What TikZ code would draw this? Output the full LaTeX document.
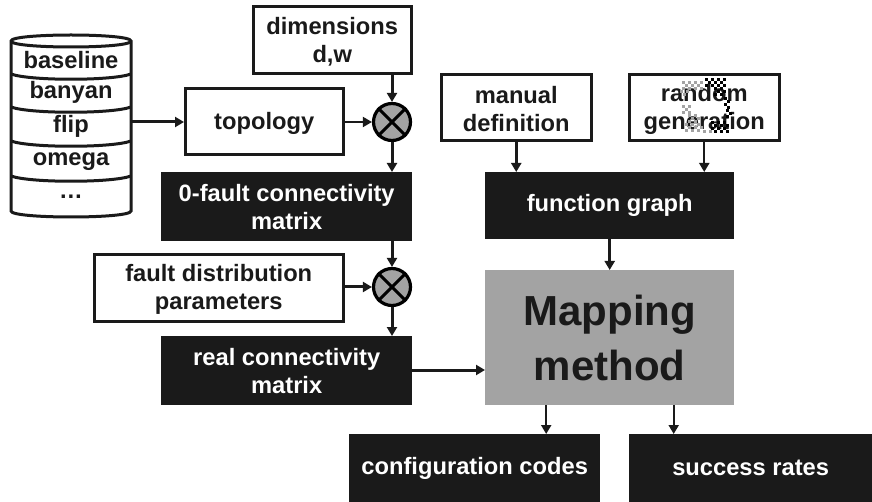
\documentclass[tikz,border=0pt]{standalone}
\usepackage{fontspec}
\setmainfont{Liberation Sans}
\usetikzlibrary{arrows.meta}
\definecolor{ink}{HTML}{1A1A1A}
\definecolor{midgray}{HTML}{A3A3A3}
\tikzset{
  whitebox/.style={draw=ink,line width=3pt,fill=white,inner sep=0pt},
  whitetext/.style={inner sep=0pt,align=center,text=ink,font=\fontsize{23.7}{28}\selectfont\bfseries},
  blackbox/.style={fill=ink,inner sep=0pt,align=center,text=white,font=\fontsize{23.7}{28}\selectfont\bfseries},
  mixer/.style={circle,draw=black,line width=3.2pt,fill=midgray,inner sep=0pt,minimum size=37pt},
  flow/.style={draw=ink,line width=3pt,-{Triangle[length=9pt,width=10pt]}},
  thinflow/.style={flow,line width=2pt},
  cylline/.style={draw=ink,line width=3pt},
  cyllabel/.style={inner sep=0pt,text=ink,font=\fontsize{23.7}{28}\selectfont\bfseries}
}
\newcommand{\whitenode}[6]{\node[whitebox,minimum width=#4 pt-#2 pt-2.5pt,minimum height=#5 pt-#3 pt-2.5pt,anchor=north west] (#1) at (#2,#3) {};
  \node[whitetext] (#1text) at ([yshift=-1.5pt]#1.center) {#6};}
\newcommand{\blacknode}[6]{\node[blackbox,minimum width=#4 pt-#2 pt,minimum height=#5 pt-#3 pt,anchor=north west] (#1) at (#2,#3) {#6};}
\newcommand{\checkpatch}[5]{%
  \foreach \i in {1,...,#3}{\foreach \j in {1,...,#4}{%
    \pgfmathtruncatemacro\k{mod(\i+\j,2)}%
    \ifnum\k=0 \fill[#5] (#1+3*\i-3,#2+3*\j-3) rectangle ++(3,3);\fi
  }}}
\begin{document}
\begin{tikzpicture}[x=1pt,y=-1pt]
\useasboundingbox (0,0) rectangle (872,502);
% database
\node[minimum width=120pt,minimum height=178pt,inner sep=0pt,anchor=north west] (db) at (11,37) {};
\draw[cylline] (11,41) .. controls (11,33) and (131,33) .. (131,41) -- (131,211) .. controls (131,219) and (11,219) .. (11,211) -- cycle;
\draw[cylline] (11,41) .. controls (11,49) and (131,49) .. (131,41);
\draw[cylline] (11,74) .. controls (30,81) and (112,81) .. (131,74);
\draw[cylline] (11,107) .. controls (30,114) and (112,114) .. (131,107);
\draw[cylline] (11,141) .. controls (30,148) and (112,148) .. (131,141);
\draw[cylline] (11,176) .. controls (30,183) and (112,183) .. (131,176);
\node[cyllabel] (l1) at (71,60) {baseline};
\node[cyllabel] (l2) at (71,92) {banyan};
\node[cyllabel] (l3) at (71,126) {flip};
\node[cyllabel] (l4) at (71,162) {omega};
\node[cyllabel] (l5) at (71,197) {…};
% boxes
\whitenode{dim}{252}{5}{412}{75}{dimensions\\d,w}
\whitenode{topo}{184}{87}{344}{156}{topology}
\whitenode{manual}{440}{73}{592}{142}{manual\\definition}
\whitenode{random}{628}{73}{780}{142}{random\\generation}
\whitenode{fdist}{93}{253}{344}{323}{fault distribution\\parameters}
\blacknode{zero}{161}{172}{412}{241}{0-fault connectivity\\matrix}
\blacknode{real}{161}{336}{412}{405}{real connectivity\\matrix}
\blacknode{fg}{485}{172}{734}{239}{function graph}
\blacknode{cfg}{349}{434}{600}{502}{configuration codes}
\blacknode{succ}{629}{434}{872}{502}{success rates}
\node[fill=midgray,inner sep=0pt,minimum width=249pt,minimum height=135pt,anchor=north west,align=center,text=ink,font=\fontsize{42}{55}\selectfont\bfseries] (map) at (485,270) {Mapping\\method};
% dither mark over the random generation box
\checkpatch{682}{81}{7}{3}{midgray}
\checkpatch{680}{90}{3}{2}{midgray}
\checkpatch{682}{105}{3}{3}{midgray}
\checkpatch{688}{114}{4}{3}{midgray}
\checkpatch{685}{123}{6}{3}{midgray}
\checkpatch{703}{130}{3}{1}{midgray}
\checkpatch{705}{78}{7}{3}{black}
\checkpatch{714}{87}{4}{3}{black}
\checkpatch{724}{97}{2}{4}{black}
\checkpatch{726}{109}{2}{3}{black}
\checkpatch{711}{121}{6}{4}{black}
% mixers
\node[mixer] (m1) at (392,122) {};
\node[mixer] (m2) at (392,287) {};
\foreach \m in {m1,m2}{
  \draw[black,line width=3pt] (\m.north west) -- (\m.south east);
  \draw[black,line width=3pt] (\m.north east) -- (\m.south west);
}
% connectors
\draw[flow] (m1.west -| db.east) -- (m1.west -| topo.west);
\draw[thinflow] (m1.west -| topo.east) -- (m1.west);
\draw[flow] (m1.north |- dim.south) -- (m1.north);
\draw[flow] (m1.south) -- (m1.south |- zero.north);
\draw[flow] (m2.north |- zero.south) -- (m2.north);
\draw[flow] (m2.west -| fdist.east) -- (m2.west);
\draw[flow] (m2.south) -- (m2.south |- real.north);
\draw[flow] (real.east |- 0,370) -- (map.west |- 0,370);
\draw[flow] (manual.south) -- (manual.south |- fg.north);
\draw[thinflow] (random.south) -- (random.south |- fg.north);
\draw[flow] (fg.south) -- (map.north);
\draw[thinflow] (map.south) ++(-63.5,0) coordinate (cfgout) -- (cfgout |- cfg.north);
\draw[thinflow] (map.south) ++(64,0) coordinate (succout) -- (succout |- succ.north);
\end{tikzpicture}
\end{document}
